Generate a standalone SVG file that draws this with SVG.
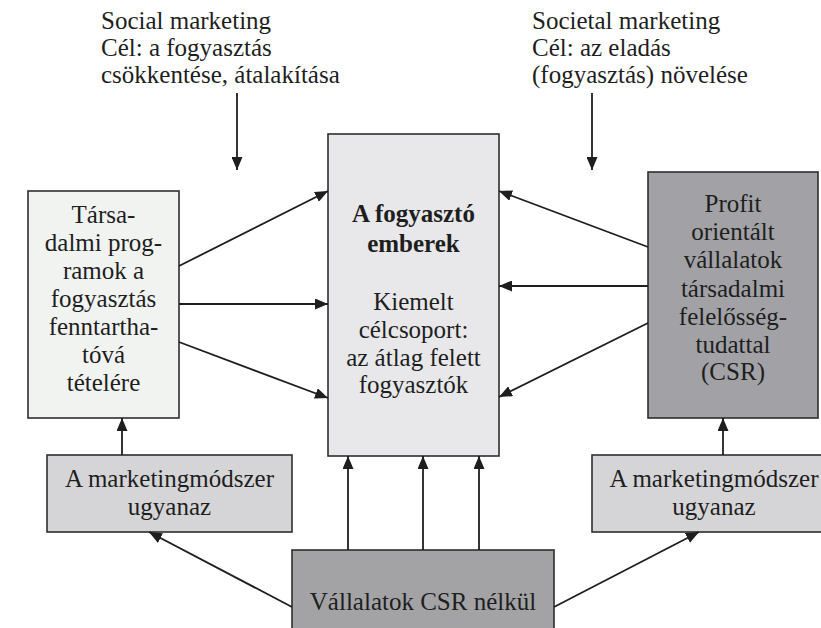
<svg xmlns="http://www.w3.org/2000/svg" width="821" height="628" viewBox="0 0 821 628">
<style>
  text { font-family: 'Liberation Serif', 'Times New Roman', serif; font-size: 25px; fill: #1e1e1e; }
  .c { text-anchor: middle; }
  .b { font-weight: bold; }
  .box { stroke: #2e2e2e; stroke-width: 1.6; }
  .conn line { stroke: #1e1e1e; stroke-width: 1.8; marker-end: url(#ah); }
</style>
<defs>
  <marker id="ah" markerUnits="userSpaceOnUse" markerWidth="13" markerHeight="11" refX="13" refY="5.5" orient="auto">
    <path d="M0,0 L13,5.5 L0,11 z" fill="#1e1e1e"/>
  </marker>
</defs>
<rect width="821" height="628" fill="#ffffff"/>

<g id="social-label">
  <text x="101" y="29">Social marketing</text>
  <text x="101" y="56">Cél: a fogyasztás</text>
  <text x="101" y="83">csökkentése, átalakítása</text>
</g>
<g id="societal-label">
  <text x="532" y="29">Societal marketing</text>
  <text x="532" y="56">Cél: az eladás</text>
  <text x="532" y="83">(fogyasztás) növelése</text>
</g>

<g id="tarsadalmi">
  <rect class="box" x="28" y="191" width="151" height="227" fill="#f1f3f1"/>
  <text class="c" x="103.5" y="223">Társa-</text>
  <text class="c" x="103.5" y="251">dalmi prog-</text>
  <text class="c" x="103.5" y="279">ramok a</text>
  <text class="c" x="103.5" y="307">fogyasztás</text>
  <text class="c" x="103.5" y="335">fenntartha-</text>
  <text class="c" x="103.5" y="363">tóvá</text>
  <text class="c" x="103.5" y="391">tételére</text>
</g>

<g id="fogyaszto">
  <rect class="box" x="328" y="134" width="171" height="322" fill="#e8e8ea"/>
  <text class="c b" x="413.5" y="222">A fogyasztó</text>
  <text class="c b" x="413.5" y="252">emberek</text>
  <text class="c" x="413.5" y="310">Kiemelt</text>
  <text class="c" x="413.5" y="338">célcsoport:</text>
  <text class="c" x="413.5" y="366">az átlag felett</text>
  <text class="c" x="413.5" y="393">fogyasztók</text>
</g>

<g id="profit">
  <rect class="box" x="648" y="172" width="170" height="246" fill="#a2a2a6"/>
  <text class="c" x="733" y="212">Profit</text>
  <text class="c" x="733" y="240">orientált</text>
  <text class="c" x="733" y="268">vállalatok</text>
  <text class="c" x="733" y="297">társadalmi</text>
  <text class="c" x="733" y="325">felelősség-</text>
  <text class="c" x="733" y="353">tudattal</text>
  <text class="c" x="733" y="380">(CSR)</text>
</g>

<g id="modszer-left">
  <rect class="box" x="47" y="455" width="245" height="77" fill="#d5d5d7"/>
  <text class="c" x="169.5" y="487">A marketingmódszer</text>
  <text class="c" x="169.5" y="515">ugyanaz</text>
</g>

<g id="modszer-right">
  <rect class="box" x="592" y="455" width="245" height="77" fill="#d5d5d7"/>
  <text class="c" x="714" y="487">A marketingmódszer</text>
  <text class="c" x="714" y="515">ugyanaz</text>
</g>

<g id="csr-nelkul">
  <rect class="box" x="292" y="550" width="262" height="90" fill="#a3a3a6"/>
  <text class="c" x="423" y="610">Vállalatok CSR nélkül</text>
</g>

<g id="connectors" class="conn">
  <line x1="237" y1="93" x2="237" y2="170"/>
  <line x1="592" y1="93" x2="592" y2="170"/>
  <line x1="179" y1="266" x2="328" y2="191"/>
  <line x1="179" y1="304" x2="328" y2="304"/>
  <line x1="179" y1="342" x2="328" y2="398"/>
  <line x1="648" y1="247" x2="499" y2="191"/>
  <line x1="648" y1="286" x2="499" y2="286"/>
  <line x1="648" y1="323" x2="499" y2="397"/>
  <line x1="122" y1="455" x2="122" y2="418"/>
  <line x1="723" y1="455" x2="723" y2="418"/>
  <line x1="348" y1="550" x2="348" y2="456"/>
  <line x1="423" y1="550" x2="423" y2="456"/>
  <line x1="479" y1="550" x2="479" y2="456"/>
  <line x1="292" y1="607" x2="149" y2="532"/>
  <line x1="554" y1="607" x2="699" y2="532"/>
</g>
</svg>
